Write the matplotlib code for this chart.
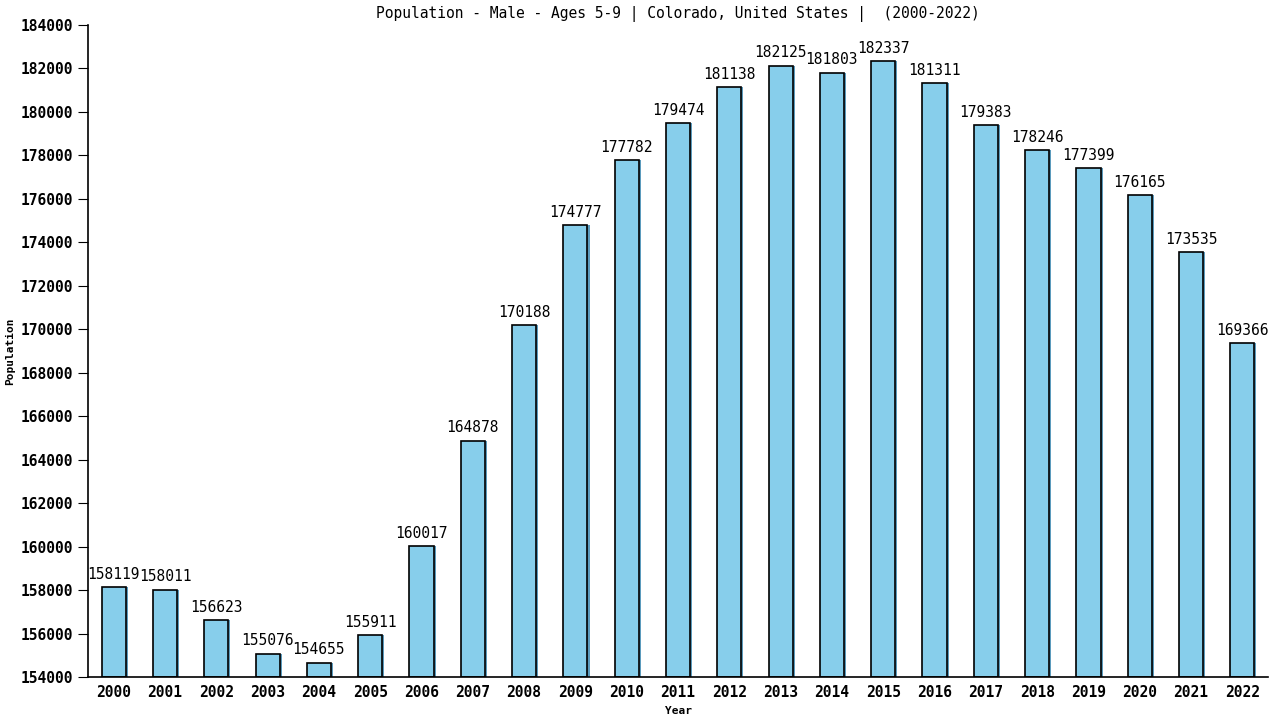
import numpy as np
import matplotlib.pyplot as plt

years = [str(y) for y in range(2000, 2023)]
population = [158119, 158011, 156623, 155076, 154655, 155911, 160017, 164878, 170188,
              174777, 177782, 179474, 181138, 182125, 181803, 182337, 181311, 179383,
              178246, 177399, 176165, 173535, 169366]

plt.rcParams['font.family'] = ['DejaVu Sans Mono']

fig = plt.figure(figsize=(12.8, 7.2), dpi=100)
ax = fig.add_axes([0.06875, 0.0597, 0.9219, 0.9056])

x = np.arange(len(years))
# shadow behind bars
ax.bar(x + 0.04, np.array(population) - 154000, bottom=154000, width=0.47,
       color='#5b9bbd', zorder=1)
ax.bar(x, np.array(population) - 154000, bottom=154000, width=0.47,
       color='#87ceeb', edgecolor='black', linewidth=1.2, zorder=2)

for xi, v in zip(x, population):
    ax.text(xi, v + 250, str(v), ha='center', va='bottom', fontsize=10.5)

ax.set_xlim(-0.5, 22.5)
ax.set_ylim(154000, 184000)
ax.set_yticks(np.arange(154000, 184001, 2000))
ax.set_xticks(x)
ax.set_xticklabels(years)
ax.tick_params(axis='y', length=7, labelsize=10.5)
ax.tick_params(axis='x', length=0, labelsize=10.5, pad=6)
for lab in ax.get_xticklabels() + ax.get_yticklabels():
    lab.set_fontweight('bold')

ax.spines['top'].set_visible(False)
ax.spines['right'].set_visible(False)
ax.spines['left'].set_linewidth(1.2)
ax.spines['bottom'].set_linewidth(1.2)

ax.set_xlabel('Year', fontsize=8, fontweight='bold', labelpad=4)
ax.set_ylabel('Population', fontsize=8, fontweight='bold', labelpad=4)
ax.set_title('Population - Male - Ages 5-9 | Colorado, United States |  (2000-2022)',
             fontsize=10.5, pad=5)

fig.savefig('out.png')
